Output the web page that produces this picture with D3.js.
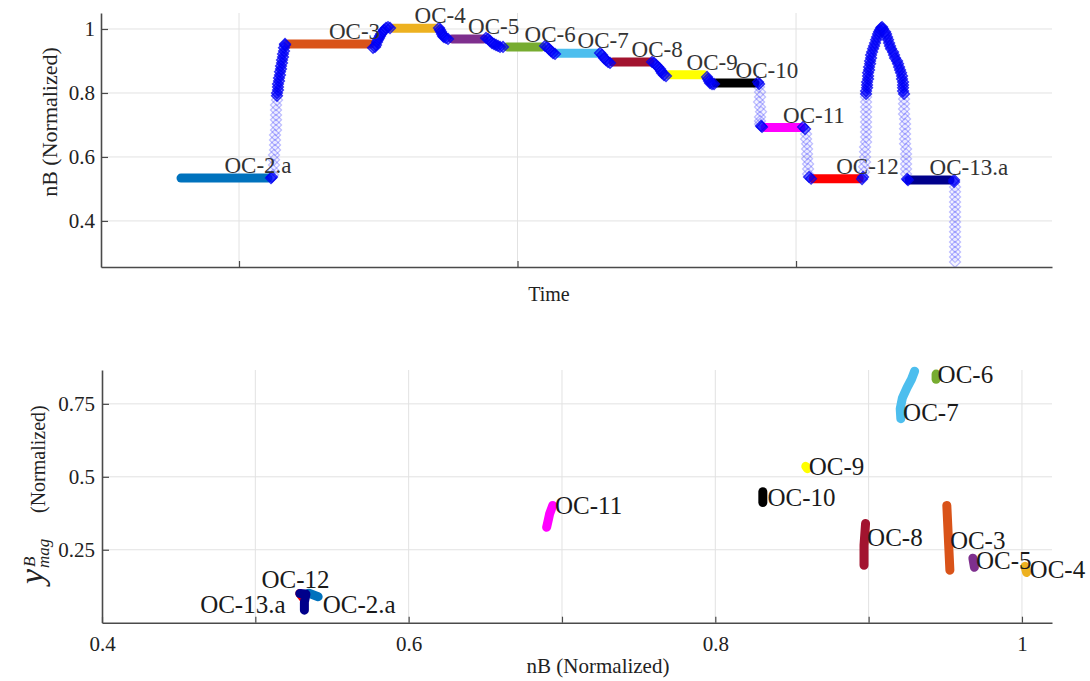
<!DOCTYPE html>
<html>
<head>
<meta charset="utf-8">
<script src="https://cdn.jsdelivr.net/npm/d3@7"></script>
<style>
  body { margin: 0; background: #fff; }
  svg text { font-family: "Liberation Serif", "DejaVu Serif", serif; }
</style>
</head>
<body>
<div id="chart"></div>
<script>
// operating conditions, colour per OC
var ocNames  = ["OC-2.a", "OC-3", "OC-4", "OC-5", "OC-6", "OC-7", "OC-8", "OC-9", "OC-10", "OC-11", "OC-12", "OC-13.a"];
var ocColors = ["#0072bd", "#d95319", "#edb120", "#7e2f8e", "#77ac30", "#4dbeee", "#a2142f", "#ffff00", "#000000", "#ff00ff", "#ff0000", "#00008b"];

// top panel: steady plateaus (time start, time end, nB level)
var plateauStart = [79.17, 117.59, 155.30, 176.48, 196.23, 214.18, 234.29, 254.40, 271.28, 288.87, 306.18, 340.58];
var plateauEnd   = [110.41, 147.04, 170.74, 187.97, 208.80, 228.91, 247.58, 266.97, 285.29, 301.80, 322.70, 355.30];
var plateauLevel = [0.534, 0.953, 1.002, 0.969, 0.944, 0.924, 0.897, 0.857, 0.831, 0.692, 0.532, 0.528];

// top panel: nB samples [time, nB] while nB moves fast (sparse, pale)
var fastSamples = [
  [[112.21,0.544],[112.21,0.559],[112.57,0.575],[112.57,0.591],[112.57,0.606],[112.93,0.622],[112.93,0.6375],
   [112.93,0.653],[112.93,0.669],[113.29,0.684],[113.29,0.70],[113.29,0.716],[113.29,0.731],[113.29,0.747],
   [113.29,0.7625],[113.64,0.778]],
  [[286.72,0.819],[287.07,0.803],[287.07,0.7875],[286.72,0.772],[287.07,0.756],[287.43,0.741],[287.07,0.725],
   [287.07,0.7125],[287.07,0.703]],
  [[303.6,0.672],[303.6,0.656],[303.96,0.641],[303.96,0.625],[303.96,0.609],[303.96,0.594],[304.32,0.578],
   [304.32,0.5625],[304.32,0.547]],
  [[324.42,0.553],[324.42,0.569],[324.78,0.584],[324.78,0.60],[324.78,0.616],[324.78,0.631],[325.14,0.647],
   [325.14,0.6625],[325.14,0.678],[325.14,0.694],[325.14,0.709],[325.14,0.725],[325.14,0.741],[325.14,0.756],
   [325.14,0.772],[325.14,0.7875]],
  [[338.78,0.781],[338.78,0.766],[338.78,0.75],[338.78,0.734],[339.14,0.719],[339.14,0.703],[339.14,0.688],
   [339.14,0.672],[339.14,0.656],[339.14,0.641],[339.5,0.625],[339.5,0.609],[339.5,0.594],[339.5,0.578],
   [339.5,0.5625],[339.5,0.547]],
  [[357.09,0.506],[357.09,0.491],[357.09,0.475],[357.09,0.459],[357.09,0.444],[357.09,0.428],[357.09,0.4125],
   [357.09,0.397],[357.09,0.381],[357.09,0.366],[357.09,0.35],[357.09,0.334],[357.09,0.319],[357.09,0.303],
   [357.09,0.2875],[357.09,0.272]]
];

// top panel: nB samples [time, nB] while nB moves slowly (dense, dark)
var slowSamples = [
  [[111.49,0.534],[111.85,0.5375]],
  [[113.64,0.791],[113.64,0.80],[114.0,0.809],[114.0,0.819],[114.0,0.828],[114.36,0.8375],[114.36,0.847],
   [114.72,0.856],[114.72,0.866],[115.08,0.875],[115.08,0.884],[115.44,0.894],[115.44,0.903],[115.8,0.9125],
   [115.8,0.922],[116.16,0.931],[116.16,0.941],[116.52,0.95],[116.52,0.953]],
  [[148.12,0.941],[148.84,0.944],[149.19,0.95],[149.55,0.959],[149.91,0.966],[150.27,0.972],[150.63,0.978],
   [150.99,0.984],[151.71,0.991],[152.07,0.997],[152.78,1.003],[153.5,1.006],[154.22,1.003]],
  [[171.81,1.003],[172.17,0.997],[172.53,0.991],[172.89,0.984],[173.25,0.978],[173.61,0.975],[174.33,0.972],[175.05,0.969]],
  [[188.69,0.972],[189.41,0.969],[190.13,0.9625],[190.84,0.956],[191.56,0.953],[192.28,0.95],[193.0,0.947],[193.72,0.944],[194.79,0.944]],
  [[209.88,0.947],[210.59,0.944],[211.31,0.9375],[212.03,0.931],[212.75,0.925],[213.47,0.922]],
  [[229.62,0.925],[230.34,0.919],[231.06,0.909],[231.77,0.903],[232.49,0.897],[233.21,0.894]],
  [[248.3,0.897],[249.01,0.894],[249.73,0.8875],[250.45,0.881],[251.17,0.875],[251.53,0.869],[251.89,0.8625],[252.6,0.856],[253.32,0.853]],
  [[268.04,0.85],[268.4,0.844],[268.76,0.8375],[269.12,0.831],[269.84,0.828],[270.56,0.828]],
  [[286.36,0.834],[286.72,0.828]],
  [[287.43,0.697],[287.79,0.694]],
  [[302.52,0.694],[303.24,0.6875]],
  [[304.68,0.5375],[305.4,0.532]],
  [[323.7,0.531],[324.06,0.5375]],
  [[325.14,0.797],[325.14,0.806],[325.5,0.816],[325.5,0.825],[325.5,0.834],[325.86,0.844],[325.86,0.853],
   [325.86,0.863],[326.22,0.872],[326.22,0.881],[326.58,0.891],[326.58,0.90],[326.94,0.909],[326.94,0.919],
   [327.3,0.928],[327.65,0.938],[328.01,0.947],[328.37,0.956],[328.73,0.966],[329.09,0.975],[329.45,0.984],
   [329.81,0.991],[330.17,0.997],[330.53,1.003],[330.89,1.006],
   [331.24,1.0],[331.96,0.991],[332.32,0.984],[332.68,0.975],[333.04,0.966],[333.4,0.956],[333.75,0.947],
   [334.11,0.938],[334.83,0.928],[335.19,0.919],[335.55,0.909],[336.27,0.9],[336.63,0.891],[336.99,0.881],
   [337.35,0.872],[337.7,0.863],[338.06,0.853],[338.06,0.844],[338.42,0.834],[338.42,0.825],[338.42,0.816],
   [338.42,0.806],[338.78,0.797]],
  [[339.86,0.531],[340.2,0.528]],
  [[356.74,0.528],[356.74,0.522]]
];

// bottom panel: [nB, y_mag] per OC
var scatterPts = [
  [[0.535,0.101],[0.541,0.089]],
  [[0.951,0.402],[0.952,0.29],[0.953,0.18]],
  [[1.002,0.193],[1.003,0.172]],
  [[0.968,0.221],[0.969,0.19]],
  [[0.944,0.852],[0.944,0.834]],
  [[0.930,0.862],[0.928,0.835],[0.925,0.805],[0.922,0.77],[0.9206,0.733],[0.921,0.699]],
  [[0.898,0.34],[0.897,0.265],[0.897,0.197]],
  [[0.859,0.536],[0.860,0.528]],
  [[0.831,0.449],[0.831,0.412]],
  [[0.694,0.402],[0.692,0.374],[0.691,0.35],[0.690,0.327]],
  [[0.529,0.1],[0.532,0.08]],
  [[0.529,0.1],[0.533,0.098],[0.532,0.07],[0.532,0.043]]
];
// where each OC name sits in the bottom panel [nB, y_mag]
var scatterLabelAt = [
  [0.544,0.060],[0.953,0.282],[1.005,0.183],[0.970,0.214],[0.945,0.849],[0.9225,0.719],
  [0.899,0.292],[0.861,0.535],[0.834,0.429],[0.6955,0.402],[0.504,0.146],[0.464,0.060]
];

var timeTicks = [100, 200, 300];
var nbTicksTop = [0.4, 0.6, 0.8, 1];
var nbTicksBottom = [0.4, 0.5, 0.6, 0.7, 0.8, 0.9, 1.0];
var nbTickLabelsBottom = [0.4, 0.6, 0.8, 1.0];
var ymagTicks = [0.25, 0.5, 0.75];

var serif = "Liberation Serif, DejaVu Serif, serif";
var svg = d3.select("#chart").append("svg")
  .attr("width", 1090)
  .attr("height", 681)
  .attr("font-family", serif);

var axisColor = "#4a4a4a", gridColor = "#e2e2e2";

// ---------- top panel ----------
var xT = d3.scaleLinear().domain([50.45, 391.9]).range([101, 1052]);
var yT = d3.scaleLinear().domain([0.256, 1.05]).range([267, 13]);

function drawGrid(xs, ys, xv, yv) {
  var y0 = ys.range()[0], y1 = ys.range()[1];
  var x0 = xs.range()[0], x1 = xs.range()[1];
  var g = svg.append("g");
  g.selectAll(".gx").data(xv).enter().append("line")
    .attr("x1", function(d) { return xs(d); }).attr("x2", function(d) { return xs(d); })
    .attr("y1", y0).attr("y2", y1)
    .style("stroke", gridColor).style("stroke-width", 1);
  g.selectAll(".gy").data(yv).enter().append("line")
    .attr("x1", x0).attr("x2", x1)
    .attr("y1", function(d) { return ys(d); }).attr("y2", function(d) { return ys(d); })
    .style("stroke", gridColor).style("stroke-width", 1);
}

function styleAxis(g) {
  g.attr("font-family", serif).attr("font-size", 21);
  g.select(".domain").style("stroke", axisColor).style("stroke-width", 1.6);
  g.selectAll(".tick line").style("stroke", axisColor).style("stroke-width", 1.2);
  g.selectAll(".tick text").style("fill", "#222");
}

drawGrid(xT, yT, timeTicks, nbTicksTop);

var diamond = d3.symbol(d3.symbolSquare, 62);
function place(d) { return "translate(" + xT(d[0]) + "," + yT(d[1]) + ") rotate(45)"; }

// fast transition samples: pale diamonds
var fastG = svg.append("g");
fastSamples.forEach(function(r) {
  fastG.selectAll(null).data(r).enter().append("path")
    .attr("d", diamond)
    .attr("transform", place)
    .style("fill", "#8080ff").style("fill-opacity", 0.08)
    .style("stroke", "#3a3aff").style("stroke-opacity", 0.32).style("stroke-width", 1.2);
});

// plateau segments
svg.append("g").selectAll("line").data(ocNames).enter().append("line")
  .attr("x1", function(d, i) { return xT(plateauStart[i]); })
  .attr("x2", function(d, i) { return xT(plateauEnd[i]); })
  .attr("y1", function(d, i) { return yT(plateauLevel[i]); })
  .attr("y2", function(d, i) { return yT(plateauLevel[i]); })
  .style("stroke", function(d, i) { return ocColors[i]; })
  .style("stroke-width", 9)
  .style("stroke-linecap", "round");

// slow transition samples: dense, dark diamonds
var slowG = svg.append("g");
slowSamples.forEach(function(r) {
  slowG.selectAll(null).data(r).enter().append("path")
    .attr("d", diamond)
    .attr("transform", place)
    .style("fill", "#0000ff").style("fill-opacity", 0.55)
    .style("stroke", "#0000f0").style("stroke-opacity", 0.75).style("stroke-width", 1.2);
});

// plateau labels
svg.append("g").selectAll("text").data(ocNames).enter().append("text")
  .attr("x", function(d, i) { return xT((plateauStart[i] + plateauEnd[i]) / 2); })
  .attr("y", function(d, i) { return yT(plateauLevel[i]) - 5; })
  .attr("font-size", 23)
  .style("fill", "#333")
  .text(function(d) { return d; });

svg.append("g").attr("transform", "translate(0,267)")
  .call(d3.axisBottom(xT).tickValues(timeTicks).tickSizeInner(-6).tickSizeOuter(0).tickFormat(""))
  .call(styleAxis);
svg.append("g").attr("transform", "translate(101,0)")
  .call(d3.axisLeft(yT).tickValues(nbTicksTop).tickSizeInner(-7).tickSizeOuter(0).tickPadding(6).tickFormat(d3.format("")))
  .call(styleAxis);

svg.append("text").attr("x", 549).attr("y", 301).attr("text-anchor", "middle")
  .attr("font-size", 20).style("fill", "#222").text("Time");
svg.append("text").attr("transform", "translate(57,122) rotate(-90)").attr("text-anchor", "middle")
  .attr("font-size", 22).style("fill", "#222").text("nB (Normalized)");

// ---------- bottom panel ----------
var xB = d3.scaleLinear().domain([0.4, 1.0196]).range([102, 1052]);
var yB = d3.scaleLinear().domain([0, 0.866]).range([622.7, 370]);

drawGrid(xB, yB, nbTicksBottom.slice(1), ymagTicks);

var line = d3.line().x(function(d) { return xB(d[0]); }).y(function(d) { return yB(d[1]); });
svg.append("g").selectAll("path").data(scatterPts).enter().append("path")
  .attr("d", line)
  .style("fill", "none")
  .style("stroke", function(d, i) { return ocColors[i]; })
  .style("stroke-width", 9)
  .style("stroke-linecap", "round")
  .style("stroke-linejoin", "round");

svg.append("g").selectAll("text").data(ocNames).enter().append("text")
  .attr("x", function(d, i) { return xB(scatterLabelAt[i][0]); })
  .attr("y", function(d, i) { return yB(scatterLabelAt[i][1]); })
  .attr("dy", "0.33em")
  .attr("font-size", 25)
  .style("fill", "#1a1a1a")
  .text(function(d) { return d; });

svg.append("g").attr("transform", "translate(0,622.7)")
  .call(d3.axisBottom(xB).tickValues(nbTicksBottom).tickSizeInner(-6).tickSizeOuter(0).tickPadding(13)
    .tickFormat(function(d) { return nbTickLabelsBottom.some(function(v) { return Math.abs(v - d) < 1e-9; }) ? d3.format("")(d) : ""; }))
  .call(styleAxis);
svg.append("g").attr("transform", "translate(102,0)")
  .call(d3.axisLeft(yB).tickValues(ymagTicks).tickSizeInner(-7).tickSizeOuter(0).tickPadding(7).tickFormat(d3.format("")))
  .call(styleAxis);

svg.append("text").attr("x", 598).attr("y", 673).attr("text-anchor", "middle")
  .attr("font-size", 21).style("fill", "#222").text("nB (Normalized)");

// y^B_mag (Normalized), rotated
var yl = svg.append("g").attr("transform", "translate(43,584) rotate(-90)").style("fill", "#222");
yl.append("text").attr("x", 0).attr("y", 0).attr("font-size", 34).attr("font-style", "italic").text("y");
yl.append("text").attr("x", 17).attr("y", -8).attr("font-size", 17).attr("font-style", "italic").text("B");
yl.append("text").attr("x", 16).attr("y", 6).attr("font-size", 17).attr("font-style", "italic").text("mag");
yl.append("text").attr("x", 71).attr("y", 2).attr("font-size", 20).text("(Normalized)");
</script>
</body>
</html>
